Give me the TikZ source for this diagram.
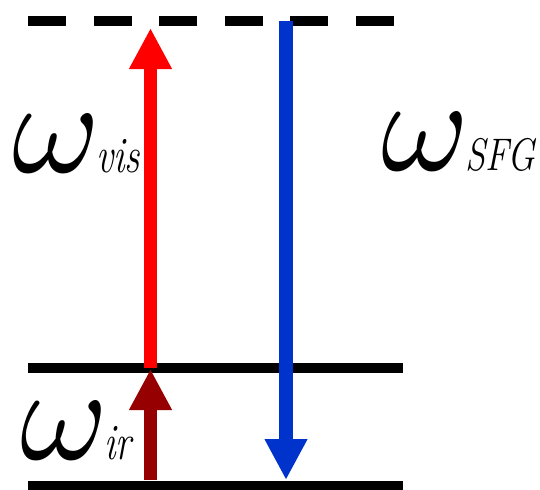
\documentclass[tikz,border=0pt]{standalone}
\usepackage{graphicx}
\usetikzlibrary{arrows.meta}

\begin{document}
\begin{tikzpicture}[x=1cm,y=1cm,
  level/.style={line width=0.2cm, line cap=butt},
  beam/.style={line width=0.27cm, -{Triangle[width=0.8cm,length=0.82cm]}},
  lbl/.style={anchor=base west, inner sep=0pt, font=\itshape}]
\useasboundingbox (0,0) rectangle (10.8,-9.78);

% levels
\draw[level, dash pattern=on 0.76cm off 0.55cm] (0.56,-0.42) -- (7.88,-0.42);
\draw[level] (0.56,-7.36) -- (8.06,-7.36);
\draw[level] (0.56,-9.72) -- (8.06,-9.72);

% arrow ends
\coordinate (g) at (3.01,-9.60);
\coordinate (v) at (3.01,-7.36);
\coordinate (vtop) at (3.01,-0.56);
\coordinate (s) at (5.72,-0.42);
\coordinate (sbot) at (5.72,-9.60);

\draw[beam, color={rgb,255:red,150;green,0;blue,0}] (g) -- (3.01,-7.38);
\draw[beam, color=red] (v) -- (vtop);
\draw[beam, color={rgb,255:red,0;green,51;blue,204}] (s) -- (sbot);

\node[lbl] (wvis) at (0.24,-3.44)
{\scalebox{7.6}{$\omega$}\kern-0.08cm\fontsize{29}{29}\selectfont\scalebox{0.75}[1]{vis}};

\node[lbl] (wsfg) at (7.62,-3.40)
{\scalebox{7.6}{$\omega$}\kern-0.08cm\fontsize{26}{26}\selectfont\scalebox{0.8}[1]{SFG}};

\node[lbl] (wir) at (0.40,-9.18)
{\scalebox{7.6}{$\omega$}\kern-0.08cm\fontsize{29}{29}\selectfont\scalebox{0.75}[1]{ir}};
\end{tikzpicture}
\end{document}
